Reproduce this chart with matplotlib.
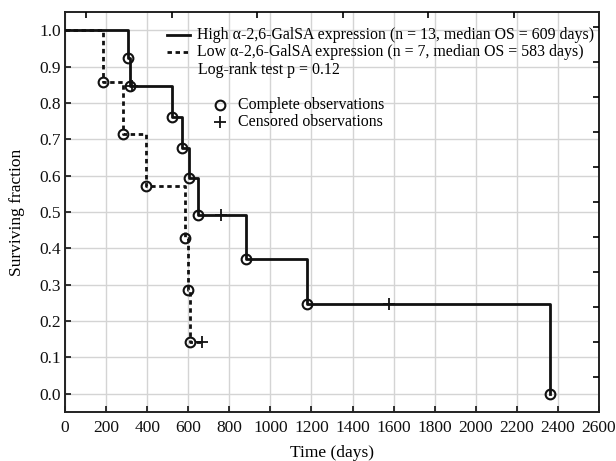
import matplotlib
matplotlib.use("Agg")
import matplotlib.pyplot as plt

# Kaplan-Meier steps
high_t = [0, 308, 316, 519, 568, 604, 650, 881, 1176, 2360]
high_s = [1.0, 0.923, 0.846, 0.761, 0.677, 0.593, 0.493, 0.372, 0.246, 0.0]
high_cens_t = [328, 758, 1578]
high_cens_s = [0.846, 0.493, 0.246]

low_t = [0, 183, 284, 394, 584, 600, 609, 668]
low_s = [1.0, 0.857, 0.714, 0.571, 0.429, 0.286, 0.143, 0.143]
low_event_n = 6  # events after t=0
low_cens_t = [668]
low_cens_s = [0.143]

xticks = list(range(0, 2601, 200))
yticks = [round(0.1 * i, 1) for i in range(11)]

plt.rcParams["font.family"] = "Liberation Serif"
plt.rcParams["mathtext.fontset"] = "stix"

fig = plt.figure(figsize=(6.16, 4.61), dpi=100)
ax = fig.add_axes([0.1055, 0.1063, 0.8669, 0.8677])

ax.grid(True, color="#d4d4d4", lw=1.0, zorder=0)
ax.set_axisbelow(True)

ax.step(high_t, high_s, where="post", color="#111111", lw=2.0, zorder=3)
ax.step(low_t, low_s, where="post", color="#111111", lw=2.0,
        linestyle=(0, (1.6, 1.3)), zorder=3)

mk = dict(ls="none", marker="o", ms=7, mfc="none", mec="#111111", mew=1.5, zorder=4)
ax.plot(high_t[1:], high_s[1:], **mk)
ax.plot(low_t[1:1 + low_event_n], low_s[1:1 + low_event_n], **mk)
ck = dict(ls="none", marker="+", ms=8, mec="#111111", mew=1.3, zorder=4)
ax.plot(high_cens_t, high_cens_s, **ck)
ax.plot(low_cens_t, low_cens_s, **ck)

ax.set_xlim(0, 2600)
ax.set_ylim(-0.05, 1.05)
ax.set_xticks(xticks)
ax.set_yticks(yticks)
ax.set_yticklabels(["%.1f" % v for v in yticks])
ax.tick_params(direction="in", length=4, width=1.2, labelsize=12.5, colors="#111111")
ax.tick_params(axis="x", pad=6)
ax.tick_params(axis="y", pad=3)
for s in ax.spines.values():
    s.set_linewidth(1.4)
    s.set_color("#222222")

ax.set_xlabel("Time (days)", fontsize=12.5, labelpad=6)
ax.set_ylabel("Surviving fraction", fontsize=12.5, labelpad=10)

# odd extra ticks on top and right (as in the source plot)
axt = ax.twiny()
axt.set_xlim(0, 1)
axt.set_xticks([0.04 + 0.16 * k for k in range(6)])
axt.tick_params(direction="in", length=4, width=1.2, labeltop=False)
axr = ax.twinx()
axr.set_ylim(0, 1)
axr.set_yticks([0.0865 + 0.0875 * k for k in range(11)])
axr.tick_params(direction="in", length=4, width=1.2, labelright=False)
for a in (axt, axr):
    for s in a.spines.values():
        s.set_visible(False)

# legend, drawn by hand
tr = ax.transAxes
fs = 11.4
ax.plot([0.191, 0.234], [0.9425, 0.9425], color="#111111", lw=2.0, transform=tr, clip_on=False)
ax.text(0.247, 0.9425, "High α-2,6-GalSA expression (n = 13, median OS = 609 days)",
        transform=tr, fontsize=fs, va="center", ha="left")
ax.plot([0.191, 0.234], [0.900, 0.900], color="#111111", lw=2.0,
        linestyle=(0, (1.6, 1.3)), transform=tr, clip_on=False)
ax.text(0.247, 0.900, "Low α-2,6-GalSA expression (n = 7, median OS = 583 days)",
        transform=tr, fontsize=fs, va="center", ha="left")
ax.text(0.249, 0.855, "Log-rank test p = 0.12", transform=tr, fontsize=fs,
        va="center", ha="left")
ax.plot([0.290], [0.7675], transform=tr, marker="o", ms=7, mfc="none",
        mec="#111111", mew=1.5, ls="none")
ax.text(0.324, 0.7675, "Complete observations", transform=tr, fontsize=fs,
        va="center", ha="left")
ax.plot([0.290], [0.725], transform=tr, marker="+", ms=8, mec="#111111",
        mew=1.3, ls="none")
ax.text(0.324, 0.725, "Censored observations", transform=tr, fontsize=fs,
        va="center", ha="left")

fig.savefig("out.png", dpi=100)
